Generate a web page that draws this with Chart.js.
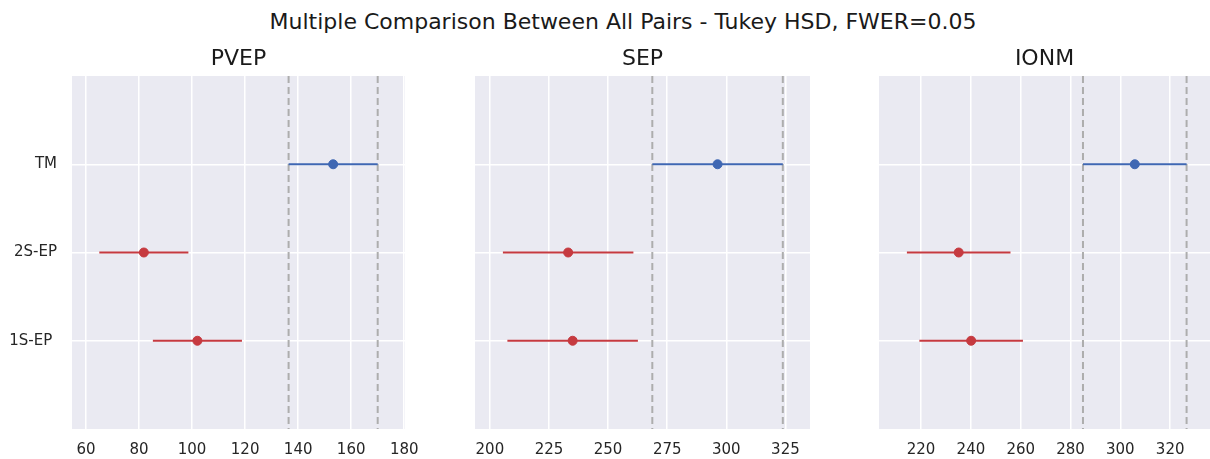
<!DOCTYPE html>
<html>
<head>
<meta charset="utf-8">
<script src="https://cdn.jsdelivr.net/npm/chart.js@4.4.1/dist/chart.umd.min.js"></script>
<style>
  body { margin: 0; background: #fff; width: 1210px; height: 459px; position: relative; overflow: hidden; }
  #title { position: absolute; left: 18px; width: 1210px; top: 9px; text-align: center; white-space: nowrap;
           font-family: "DejaVu Sans", sans-serif; font-size: 22px; color: #1a1a1a; }
  .panel { position: absolute; top: 40px; height: 419px; }
</style>
</head>
<body>
<div id="title">Multiple Comparison Between All Pairs - Tukey HSD, FWER=0.05</div>
<div class="panel" style="left:0;width:420px"><canvas id="c0"></canvas></div>
<div class="panel" style="left:420px;width:400px"><canvas id="c1"></canvas></div>
<div class="panel" style="left:840px;width:370px"><canvas id="c2"></canvas></div>
<script>
// groups, top to bottom
const groups = ["TM", "2S-EP", "1S-EP "];
const panelNames = ["PVEP", "SEP", "IONM"];

// group means per panel (same order as groups)
const pvepMeans = [153.2, 81.8, 102.0];
const sepMeans = [296.3, 233.1, 235.0];
const ionmMeans = [305.8, 235.1, 240.1];

// half width of the confidence interval per panel
const pvepHalf = [16.8, 16.8, 16.8];
const sepHalf = [27.6, 27.6, 27.6];
const ionmHalf = [20.8, 20.8, 20.8];

// which group is highlighted (blue), the rest are significantly different (red)
const highlighted = 0;

// x tick labels and axis range
const pvepTicks = [60, 80, 100, 120, 140, 160, 180];
const sepTicks = [200, 225, 250, 275, 300, 325];
const ionmTicks = [220, 240, 260, 280, 300, 320];
const pvepRange = [54.7, 180.3];
const sepRange = [193.7, 335.4];
const ionmRange = [203.1, 336.0];

const BLUE = "#3f67b3";
const RED = "#c63a40";
const BG = "#eaeaf2";

const panels = [
  { id: "c0", means: pvepMeans, half: pvepHalf, ticks: pvepTicks, range: pvepRange, yw: 72, pr: 15, labels: true },
  { id: "c1", means: sepMeans, half: sepHalf, ticks: sepTicks, range: sepRange, yw: 55, pr: 10, labels: false },
  { id: "c2", means: ionmMeans, half: ionmHalf, ticks: ionmTicks, range: ionmRange, yw: 39, pr: 0, labels: false },
];

// plot background + panel title centred over the plot area
const panelPlugin = {
  id: "panel",
  beforeDraw(chart) {
    const a = chart.chartArea;
    const ctx = chart.ctx;
    ctx.save();
    ctx.fillStyle = BG;
    ctx.fillRect(a.left, a.top, a.right - a.left, a.bottom - a.top);
    ctx.fillStyle = "#1a1a1a";
    ctx.font = "22px 'DejaVu Sans'";
    ctx.textAlign = "center";
    ctx.textBaseline = "middle";
    ctx.fillText(chart.options.plugins.panel.text, (a.left + a.right) / 2, 19.5);
    ctx.restore();
  },
};

panels.forEach((p, k) => {
  const datasets = [];
  const lo = p.means[highlighted] - p.half[highlighted];
  const hi = p.means[highlighted] + p.half[highlighted];

  // dashed reference lines at the highlighted group's interval
  [lo, hi].forEach((v) => {
    datasets.push({
      type: "line",
      data: [{ x: v, y: -1 }, { x: v, y: 3 }],
      borderColor: "#adadad",
      borderWidth: 2,
      borderDash: [7, 4],
      pointRadius: 0,
      order: 3,
    });
  });

  groups.forEach((g, i) => {
    const col = i === highlighted ? BLUE : RED;
    datasets.push({
      type: "line",
      data: [{ x: p.means[i] - p.half[i], y: i }, { x: p.means[i] + p.half[i], y: i }],
      borderColor: col,
      borderWidth: 2,
      pointRadius: 0,
      order: 2,
    });
    datasets.push({
      type: "scatter",
      data: [{ x: p.means[i], y: i }],
      backgroundColor: col,
      borderColor: col,
      pointRadius: 4.5,
      order: 1,
    });
  });

  new Chart(document.getElementById(p.id), {
    data: { datasets },
    plugins: [panelPlugin],
    options: {
      responsive: true,
      maintainAspectRatio: false,
      animation: false,
      layout: { autoPadding: false, padding: { top: 36, right: p.pr, bottom: 0, left: 0 } },
      plugins: {
        legend: { display: false },
        tooltip: { enabled: false },
        title: { display: false },
        panel: { text: panelNames[k] },
      },
      scales: {
        x: {
          type: "linear",
          min: p.range[0],
          max: p.range[1],
          afterBuildTicks: (axis) => { axis.ticks = p.ticks.map((v) => ({ value: v })); },
          afterFit: (axis) => { axis.height = 30; axis.paddingLeft = 0; axis.paddingRight = 0; },
          grid: { color: "#ffffff", lineWidth: 1.5, drawTicks: false },
          border: { display: false },
          ticks: { color: "#262626", padding: 12, maxRotation: 0, font: { family: "DejaVu Sans", size: 15 } },
        },
        y: {
          type: "linear",
          min: -1,
          max: 3,
          reverse: true,
          afterBuildTicks: (axis) => { axis.ticks = groups.map((g, i) => ({ value: i })); },
          afterFit: (axis) => { axis.width = p.yw; axis.paddingTop = 0; axis.paddingBottom = 0; },
          grid: { color: "#ffffff", lineWidth: 1.5, drawTicks: false },
          border: { display: false },
          ticks: {
            color: "#262626",
            padding: 15,
            font: { family: "DejaVu Sans", size: 15 },
            callback: (v) => (p.labels ? groups[v] : ""),
          },
        },
      },
    },
  });
});
</script>
</body>
</html>
